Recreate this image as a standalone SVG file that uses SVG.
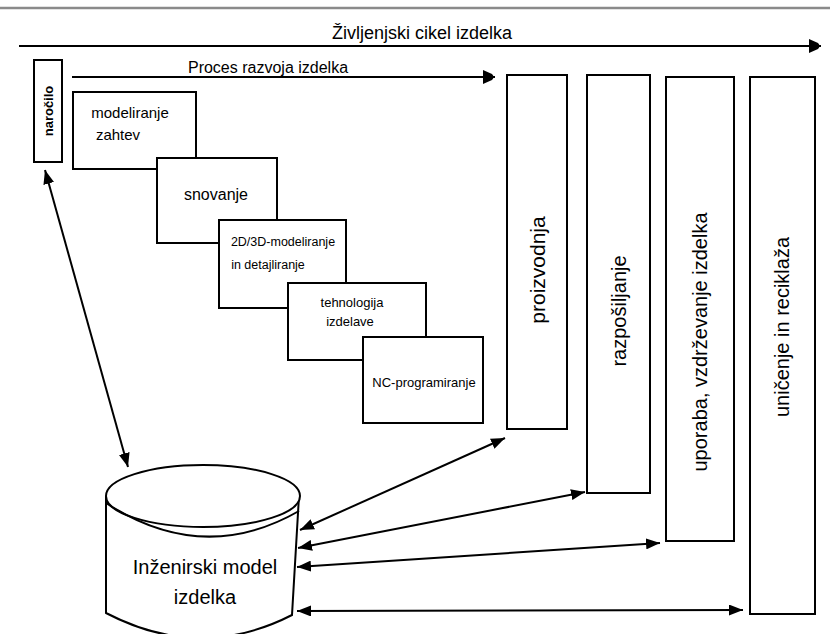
<svg xmlns="http://www.w3.org/2000/svg" width="830" height="634" viewBox="0 0 830 634">
<style>
.box{fill:#fff;stroke:#000;stroke-width:2}
.t{font-family:"Liberation Sans",Arial,sans-serif;fill:#000;text-anchor:middle}
.c{fill:none;stroke:#000;stroke-width:2}
</style>
<defs>
<marker id="ah" viewBox="0 0 14 11" refX="14" refY="5.5" markerWidth="14" markerHeight="11" markerUnits="userSpaceOnUse" orient="auto-start-reverse">
<path d="M0,0 L14,5.5 L0,11 z" fill="#000"/>
</marker>
<marker id="bh" viewBox="0 0 12 14" refX="12" refY="7" markerWidth="12" markerHeight="14" markerUnits="userSpaceOnUse" orient="auto">
<path d="M0,0 L9,4 Q12,7 9,10 L0,14 z" fill="#000"/>
</marker>
</defs>
<rect width="830" height="634" fill="#fff"/>
<line x1="0" y1="8" x2="830" y2="8" stroke="#8a8a8a" stroke-width="2.5"/>

<g id="lifecycle">
<text class="t" x="422" y="39" font-size="18">Življenjski cikel izdelka</text>
</g>
<g id="process">
<text class="t" x="268" y="73" font-size="16">Proces razvoja izdelka</text>
</g>

<g id="narocilo">
<rect class="box" x="34" y="60" width="28" height="102"/>
<text class="t" font-size="13" font-weight="bold" transform="translate(53,111) rotate(-90)">naročilo</text>
</g>

<g id="modeliranje-zahtev">
<rect class="box" x="73" y="92" width="123" height="77"/>
<text class="t" x="130" y="118" font-size="15">modeliranje</text>
<text class="t" x="118" y="140" font-size="15">zahtev</text>
</g>
<g id="snovanje">
<rect class="box" x="157" y="158" width="120" height="85"/>
<text class="t" x="216" y="200" font-size="16">snovanje</text>
</g>
<g id="modeliranje-2d3d">
<rect class="box" x="219" y="220" width="127" height="88"/>
<text class="t" x="283" y="246" font-size="12.5">2D/3D-modeliranje</text>
<text class="t" x="268" y="269" font-size="12.5">in detajliranje</text>
</g>
<g id="tehnologija">
<rect class="box" x="288" y="283" width="138" height="77"/>
<text class="t" x="352" y="307" font-size="13">tehnologija</text>
<text class="t" x="350" y="326" font-size="13">izdelave</text>
</g>
<g id="nc-programiranje">
<rect class="box" x="363" y="337" width="120" height="86"/>
<text class="t" x="424" y="387" font-size="13">NC-programiranje</text>
</g>

<g id="proizvodnja">
<rect class="box" x="507" y="75" width="60" height="354"/>
<text class="t" font-size="21" transform="translate(545,270) rotate(-90)">proizvodnja</text>
</g>
<g id="razposiljanje">
<rect class="box" x="587" y="75" width="63" height="418"/>
<text class="t" font-size="20" transform="translate(626,311) rotate(-90)">razpošiljanje</text>
</g>
<g id="uporaba">
<rect class="box" x="666" y="77" width="68" height="464"/>
<text class="t" font-size="20" transform="translate(707,342) rotate(-90)">uporaba, vzdrževanje izdelka</text>
</g>
<g id="unicenje">
<rect class="box" x="750" y="77" width="65" height="537"/>
<text class="t" font-size="20" transform="translate(789,327) rotate(-90)">uničenje in reciklaža</text>
</g>

<g id="inzenirski-model">
<path class="box" d="M106,496 L106,613 Q200,662 292,615 L299,496"/>
<ellipse class="box" cx="203" cy="496" rx="97" ry="31"/>
<path class="c" d="M106,503 Q203,566 299,511"/>
<text class="t" x="205" y="574" font-size="20">Inženirski model</text>
<text class="t" x="205" y="604" font-size="20">izdelka</text>
</g>

<g id="connectors">
<line class="c" x1="19" y1="46" x2="821" y2="46" marker-end="url(#bh)"/>
<line class="c" x1="72" y1="77" x2="495" y2="77" marker-end="url(#bh)"/>
<line class="c" x1="45" y1="170" x2="128" y2="467" marker-start="url(#ah)" marker-end="url(#ah)"/>
<line class="c" x1="300" y1="530" x2="505" y2="438" marker-start="url(#ah)" marker-end="url(#ah)"/>
<line class="c" x1="298" y1="548" x2="585" y2="492" marker-start="url(#ah)" marker-end="url(#ah)"/>
<line class="c" x1="297" y1="567" x2="660" y2="543" marker-start="url(#ah)" marker-end="url(#ah)"/>
<line class="c" x1="297" y1="611" x2="743" y2="610" marker-start="url(#ah)" marker-end="url(#ah)"/>
</g>
</svg>
